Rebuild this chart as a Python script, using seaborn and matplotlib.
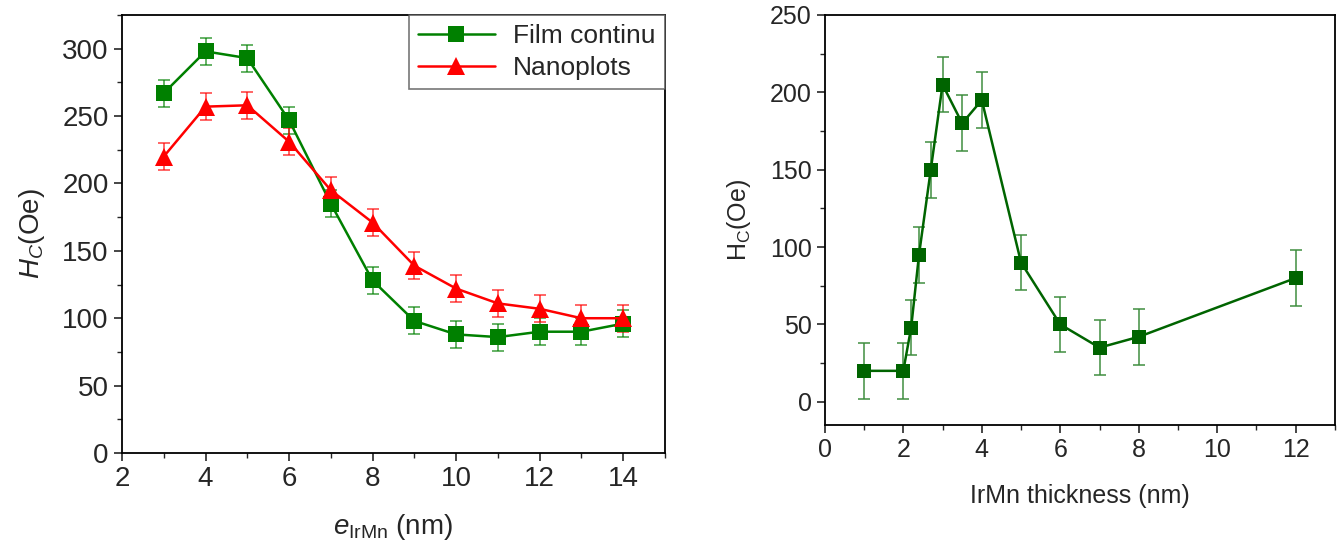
import numpy as np
import pandas as pd
import matplotlib
matplotlib.use("Agg")
import matplotlib.pyplot as plt
import seaborn as sns
from matplotlib.ticker import MultipleLocator

# left panel: coercive field vs IrMn thickness
e_irmn = [3, 4, 5, 6, 7, 8, 9, 10, 11, 12, 13, 14]
hc_film = [267, 298, 293, 247, 185, 128, 98, 88, 86, 90, 90, 96]
hc_nano = [220, 257, 258, 231, 195, 171, 139, 122, 111, 107, 100, 100]
err_film = [10, 10, 10, 10, 10, 10, 10, 10, 10, 10, 10, 10]
err_nano = [10, 10, 10, 10, 10, 10, 10, 10, 10, 10, 10, 10]

# right panel
t_irmn = [1, 2, 2.2, 2.4, 2.7, 3, 3.5, 4, 5, 6, 7, 8, 12]
hc_right = [20, 20, 48, 95, 150, 205, 180, 195, 90, 50, 35, 42, 80]
err_right = [18, 18, 18, 18, 18, 18, 18, 18, 18, 18, 18, 18, 18]

sns.set_style("ticks")
plt.rcParams["font.family"] = ["Liberation Sans", "DejaVu Sans"]
plt.rcParams["mathtext.fontset"] = "custom"
plt.rcParams["mathtext.rm"] = "Liberation Sans"
plt.rcParams["mathtext.it"] = "Liberation Sans:italic"

fig = plt.figure(figsize=(13.39, 5.45), dpi=100)
ax1 = fig.add_axes([0.0911, 0.1688, 0.4055, 0.8037])
ax2 = fig.add_axes([0.616, 0.2202, 0.381, 0.7523])

green = "#008000"
red = "#ff0000"
dkgreen = "#006400"

left = pd.DataFrame({"e": e_irmn, "film": hc_film, "nano": hc_nano})

ax1.errorbar(e_irmn, hc_film, yerr=err_film, fmt="none", ecolor=green,
             alpha=0.7, capsize=4, elinewidth=1.2, capthick=1.2)
ax1.errorbar(e_irmn, hc_nano, yerr=err_nano, fmt="none", ecolor=red,
             alpha=0.7, capsize=4, elinewidth=1.2, capthick=1.2)
sns.lineplot(data=left, x="e", y="film", ax=ax1, color=green, marker="s",
             markersize=11, markeredgewidth=0, linewidth=1.8, label="Film continu")
sns.lineplot(data=left, x="e", y="nano", ax=ax1, color=red, marker="^",
             markersize=13.5, markeredgewidth=0, linewidth=1.8, label="Nanoplots")

ax1.set_xlim(2, 15)
ax1.set_ylim(0, 325)
ax1.xaxis.set_major_locator(MultipleLocator(2))
ax1.xaxis.set_minor_locator(MultipleLocator(1))
ax1.yaxis.set_major_locator(MultipleLocator(50))
ax1.yaxis.set_minor_locator(MultipleLocator(25))
ax1.set_xlabel(r"$e_{\mathrm{IrMn}}$ (nm)", fontsize=20, labelpad=14)
ax1.set_ylabel(r"$H_C$(Oe)", fontsize=20, labelpad=11)
leg = ax1.legend(loc="upper right", fontsize=19, frameon=True, fancybox=False,
                 borderaxespad=0, handlelength=2.9, borderpad=0.35,
                 labelspacing=0.3, handletextpad=0.7)
leg.get_frame().set_edgecolor("#555555")
leg.get_frame().set_linewidth(1.2)

right = pd.DataFrame({"t": t_irmn, "hc": hc_right})
ax2.errorbar(t_irmn, hc_right, yerr=err_right, fmt="none", ecolor="#3c8c3c",
             alpha=0.9, capsize=4, elinewidth=1.2, capthick=1.2)
sns.lineplot(data=right, x="t", y="hc", ax=ax2, color=dkgreen, marker="s",
             markersize=10.5, markeredgewidth=0, linewidth=1.8)

ax2.set_xlim(0, 13)
ax2.set_ylim(-15, 250)
ax2.xaxis.set_major_locator(MultipleLocator(2))
ax2.xaxis.set_minor_locator(MultipleLocator(1))
ax2.yaxis.set_major_locator(MultipleLocator(50))
ax2.yaxis.set_minor_locator(MultipleLocator(25))
ax2.set_xlabel("IrMn thickness (nm)", fontsize=18, labelpad=16)
ax2.set_ylabel(r"H$_\mathrm{C}$(Oe)", fontsize=18, labelpad=12)

for ax, fs in ((ax1, 20), (ax2, 18)):
    for side in ax.spines.values():
        side.set_visible(True)
        side.set_linewidth(1.3)
        side.set_color("black")
    ax.tick_params(which="major", direction="out", length=6, width=1.2,
                   labelsize=fs, top=False, right=False)
    ax.tick_params(which="minor", direction="out", length=3.5, width=1.0,
                   top=False, right=False)

fig.savefig("out.png", dpi=100)
